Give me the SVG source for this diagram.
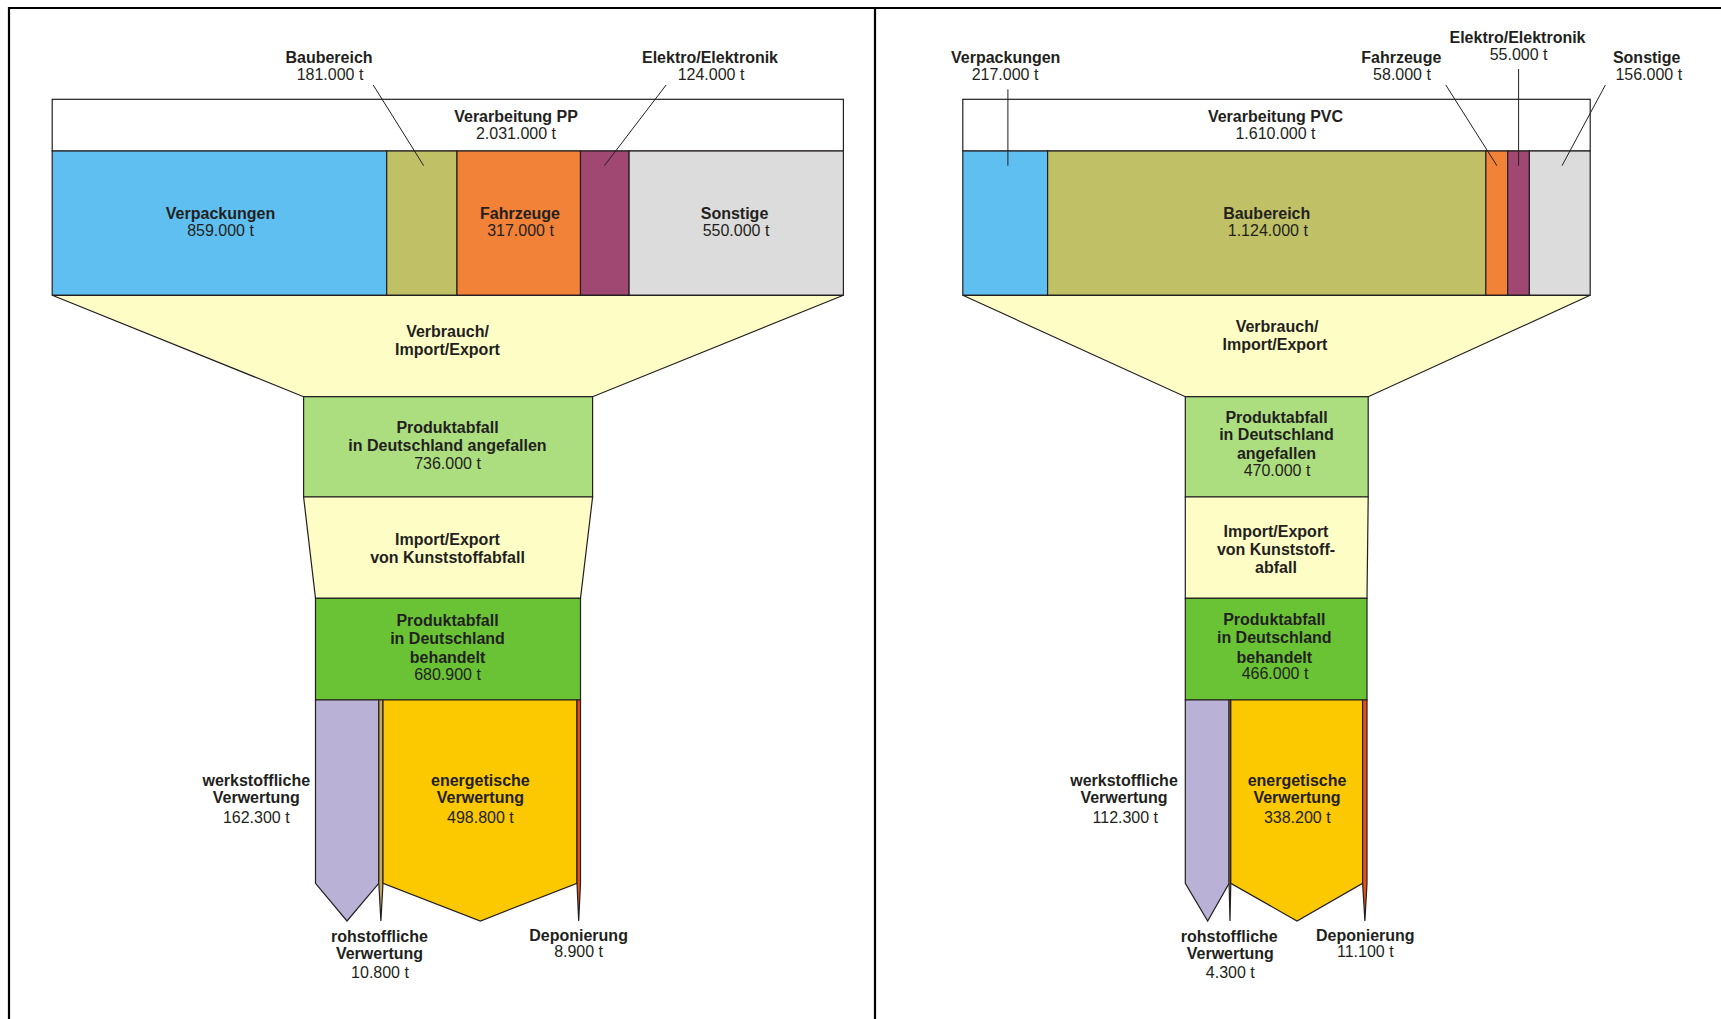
<svg xmlns="http://www.w3.org/2000/svg" width="1721" height="1019" viewBox="0 0 1721 1019">
  <style>
    text { font-family: "Liberation Sans", Arial, sans-serif; font-size: 16px; fill: #231f20; text-anchor: middle; }
    .b { font-weight: bold; }
    .shape { stroke: #231f20; stroke-width: 1.2; stroke-linejoin: miter; }
    .lead { stroke: #231f20; stroke-width: 1; fill: none; }
    .white { fill: #ffffff; }
    .blue { fill: #5ebff0; }
    .olive { fill: #c0c166; }
    .orange { fill: #f28238; }
    .violet { fill: #a04772; }
    .grey { fill: #dcdcdc; }
    .cream { fill: #fefdc6; }
    .lgreen { fill: #acdd7f; }
    .green { fill: #6ac335; }
    .lav { fill: #bab1d6; }
    .tan { fill: #c4a96a; }
    .gold { fill: #fcc800; }
    .red { fill: #e8501a; }
  </style>

  <!-- frame and panel divider -->
  <g id="frame" fill="none" stroke="#000" stroke-width="2.2">
    <path d="M9,1030 V8 H1730"/>
    <path d="M875,8 V1030"/>
  </g>

  <!-- ===== PP panel ===== -->
  <g id="pp-verarbeitung">
    <rect class="shape white" x="52.2" y="99.3" width="791.2" height="51.7"/>
    <text class="b" x="516" y="121.5">Verarbeitung PP</text>
    <text x="516" y="139">2.031.000 t</text>
  </g>
  <g id="pp-verpackungen">
    <rect class="shape blue" x="52.2" y="151" width="334.5" height="144.3"/>
    <text class="b" x="220.5" y="219">Verpackungen</text>
    <text x="220.5" y="235.7">859.000 t</text>
  </g>
  <g id="pp-baubereich">
    <rect class="shape olive" x="386.7" y="151" width="70.3" height="144.3"/>
    <text class="b" x="329" y="63">Baubereich</text>
    <text x="330" y="80">181.000 t</text>
  </g>
  <g id="pp-fahrzeuge">
    <rect class="shape orange" x="457" y="151" width="123.5" height="144.3"/>
    <text class="b" x="520" y="219">Fahrzeuge</text>
    <text x="520.5" y="235.7">317.000 t</text>
  </g>
  <g id="pp-elektro">
    <rect class="shape violet" x="580.5" y="151" width="48.6" height="144.3"/>
    <text class="b" x="710" y="63">Elektro/Elektronik</text>
    <text x="711" y="80">124.000 t</text>
  </g>
  <g id="pp-sonstige">
    <rect class="shape grey" x="629.1" y="151" width="214.3" height="144.3"/>
    <text class="b" x="734.5" y="219">Sonstige</text>
    <text x="736" y="235.7">550.000 t</text>
  </g>
  <g id="pp-verbrauch">
    <polygon class="shape cream" points="52.2,295.3 843.4,295.3 592.6,396.7 303.6,396.7"/>
    <text class="b" x="447.5" y="337.3">Verbrauch/</text>
    <text class="b" x="447.5" y="355.3">Import/Export</text>
  </g>
  <g id="pp-angefallen">
    <rect class="shape lgreen" x="303.6" y="396.7" width="289" height="100.3"/>
    <text class="b" x="447.5" y="432.7">Produktabfall</text>
    <text class="b" x="447.5" y="450.7">in Deutschland angefallen</text>
    <text x="447.5" y="469.3">736.000 t</text>
  </g>
  <g id="pp-importexport">
    <polygon class="shape cream" points="303.6,497 592.6,497 580.5,598.3 315.5,598.3"/>
    <text class="b" x="447.5" y="545">Import/Export</text>
    <text class="b" x="447.5" y="562.7">von Kunststoffabfall</text>
  </g>
  <g id="pp-behandelt">
    <rect class="shape green" x="315.5" y="598.3" width="265" height="101.7"/>
    <text class="b" x="447.5" y="625.7">Produktabfall</text>
    <text class="b" x="447.5" y="644">in Deutschland</text>
    <text class="b" x="447.5" y="662.7">behandelt</text>
    <text x="447.5" y="680">680.900 t</text>
  </g>
  <g id="pp-werkstofflich">
    <polygon class="shape lav" points="315.5,700 378.8,700 378.8,883.3 347,921 315.5,883.3"/>
    <text class="b" x="256.3" y="786">werkstoffliche</text>
    <text class="b" x="256.3" y="803.3">Verwertung</text>
    <text x="256.3" y="823.3">162.300 t</text>
  </g>
  <g id="pp-rohstofflich">
    <polygon class="shape tan" points="378.8,700 383,700 383,883.3 380.9,921 378.8,883.3"/>
    <text class="b" x="379.5" y="941.7">rohstoffliche</text>
    <text class="b" x="379.5" y="959">Verwertung</text>
    <text x="380" y="978.3">10.800 t</text>
  </g>
  <g id="pp-energetisch">
    <polygon class="shape gold" points="383,700 577,700 577,883.3 480.4,921 383,883.3"/>
    <text class="b" x="480.4" y="786">energetische</text>
    <text class="b" x="480.4" y="803.3">Verwertung</text>
    <text x="480.4" y="823.3">498.800 t</text>
  </g>
  <g id="pp-deponierung">
    <polygon class="shape red" points="577,700 580.5,700 580.5,883.3 578.7,921 577,883.3"/>
    <text class="b" x="578.6" y="941">Deponierung</text>
    <text x="578.6" y="956.7">8.900 t</text>
  </g>

  <!-- ===== PVC panel ===== -->
  <g id="pvc-verarbeitung">
    <rect class="shape white" x="962.8" y="99.3" width="627.4" height="51.7"/>
    <text class="b" x="1275.5" y="121.5">Verarbeitung PVC</text>
    <text x="1275.5" y="139">1.610.000 t</text>
  </g>
  <g id="pvc-verpackungen">
    <rect class="shape blue" x="962.8" y="151" width="84.8" height="144.3"/>
    <text class="b" x="1005.7" y="63">Verpackungen</text>
    <text x="1005" y="80">217.000 t</text>
  </g>
  <g id="pvc-baubereich">
    <rect class="shape olive" x="1047.6" y="151" width="438.2" height="144.3"/>
    <text class="b" x="1266.7" y="219">Baubereich</text>
    <text x="1267.8" y="235.7">1.124.000 t</text>
  </g>
  <g id="pvc-fahrzeuge">
    <rect class="shape orange" x="1485.8" y="151" width="21.9" height="144.3"/>
    <text class="b" x="1401.3" y="63">Fahrzeuge</text>
    <text x="1402" y="80">58.000 t</text>
  </g>
  <g id="pvc-elektro">
    <rect class="shape violet" x="1507.7" y="151" width="21.7" height="144.3"/>
    <text class="b" x="1517.5" y="43.3">Elektro/Elektronik</text>
    <text x="1518.6" y="60">55.000 t</text>
  </g>
  <g id="pvc-sonstige">
    <rect class="shape grey" x="1529.4" y="151" width="60.8" height="144.3"/>
    <text class="b" x="1646.7" y="63">Sonstige</text>
    <text x="1648.8" y="80">156.000 t</text>
  </g>
  <g id="pvc-verbrauch">
    <polygon class="shape cream" points="962.8,295.3 1590.2,295.3 1368.2,396.7 1185.3,396.7"/>
    <text class="b" x="1277" y="332">Verbrauch/</text>
    <text class="b" x="1275" y="350">Import/Export</text>
  </g>
  <g id="pvc-angefallen">
    <rect class="shape lgreen" x="1185.3" y="396.7" width="182.9" height="100.3"/>
    <text class="b" x="1276.5" y="422.7">Produktabfall</text>
    <text class="b" x="1276.5" y="440.3">in Deutschland</text>
    <text class="b" x="1276.5" y="459.3">angefallen</text>
    <text x="1277" y="476.3">470.000 t</text>
  </g>
  <g id="pvc-importexport">
    <polygon class="shape cream" points="1185.3,497 1368.2,497 1367,598.3 1185.3,598.3"/>
    <text class="b" x="1276" y="536.7">Import/Export</text>
    <text class="b" x="1276" y="554.7">von Kunststoff-</text>
    <text class="b" x="1276" y="573.3">abfall</text>
  </g>
  <g id="pvc-behandelt">
    <rect class="shape green" x="1185.3" y="598.3" width="181.7" height="101.7"/>
    <text class="b" x="1274.3" y="625">Produktabfall</text>
    <text class="b" x="1274.3" y="643.3">in Deutschland</text>
    <text class="b" x="1274.3" y="662.7">behandelt</text>
    <text x="1275" y="679.3">466.000 t</text>
  </g>
  <g id="pvc-werkstofflich">
    <polygon class="shape lav" points="1185.3,700 1229.1,700 1229.1,883.3 1207.7,921 1185.3,883.3"/>
    <text class="b" x="1124" y="786">werkstoffliche</text>
    <text class="b" x="1124" y="803.3">Verwertung</text>
    <text x="1125.3" y="823.3">112.300 t</text>
  </g>
  <g id="pvc-rohstofflich">
    <polygon class="shape tan" points="1229.1,700 1230.8,700 1230.8,883.3 1230,921 1229.1,883.3"/>
    <text class="b" x="1229.3" y="941.7">rohstoffliche</text>
    <text class="b" x="1230.3" y="959">Verwertung</text>
    <text x="1230.3" y="978.3">4.300 t</text>
  </g>
  <g id="pvc-energetisch">
    <polygon class="shape gold" points="1230.8,700 1362.6,700 1362.6,883.3 1297,921 1230.8,883.3"/>
    <text class="b" x="1297" y="786">energetische</text>
    <text class="b" x="1297" y="803.3">Verwertung</text>
    <text x="1297.3" y="823.3">338.200 t</text>
  </g>
  <g id="pvc-deponierung">
    <polygon class="shape red" points="1362.6,700 1367,700 1367,883.3 1364.9,921 1362.6,883.3"/>
    <text class="b" x="1365.3" y="941">Deponierung</text>
    <text x="1365.3" y="956.7">11.100 t</text>
  </g>

  <!-- leader lines from outside labels to their segments -->
  <g id="connectors" class="lead">
    <line x1="373.2" y1="85" x2="423.7" y2="165.7"/>
    <line x1="666.1" y1="85" x2="604.4" y2="165.7"/>
    <line x1="1007.9" y1="89.3" x2="1007.9" y2="165.7"/>
    <line x1="1445.8" y1="85" x2="1496.9" y2="165.7"/>
    <line x1="1518.6" y1="69" x2="1518.6" y2="165.7"/>
    <line x1="1605.4" y1="85" x2="1562" y2="165.7"/>
  </g>
</svg>
